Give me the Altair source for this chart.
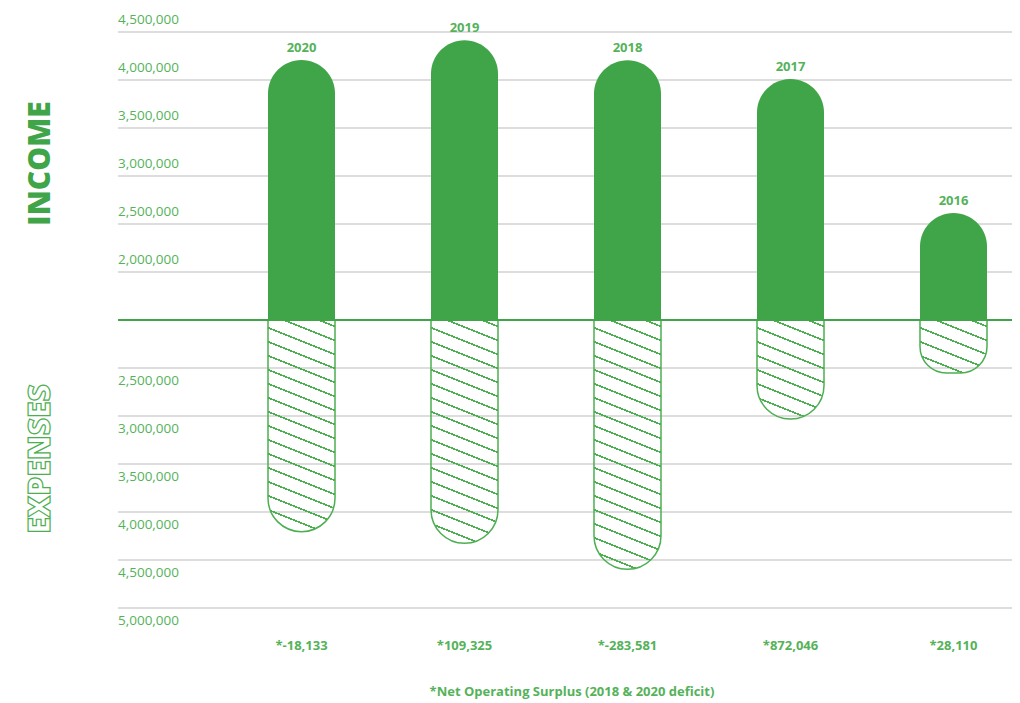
import altair as alt
import pandas as pd

# ---------------- data ----------------
years = ["2020", "2019", "2018", "2017", "2016"]
income = [4208000, 4415000, 4205000, 4010000, 2615000]
expenses = [4205000, 4326000, 4597000, 3031000, 2552000]
surplus_labels = ["*-18,133", "*109,325", "*-283,581", "*872,046", "*28,110"]
income_tick_labels = ["4,500,000", "4,000,000", "3,500,000", "3,000,000", "2,500,000", "2,000,000"]
expense_tick_labels = ["2,500,000", "3,000,000", "3,500,000", "4,000,000", "4,500,000", "5,000,000"]
footnote = "*Net Operating Surplus (2018 & 2020 deficit)"

# axis bases of the two half-scales (income goes up from 1.5M, expenses down from 2.0M)
INCOME_BASE = 1_500_000
EXPENSE_BASE = 2_000_000
SPAN = 3_000_000

# ---------------- style ----------------
W, H = 894, 576
BAR_W = 67
R = BAR_W / 2
GREEN = "#40A448"
LINE_GREEN = "#4DAF52"
LABEL = "#55B25A"
GRID = "#BBBBBB"
CLEAR = "rgba(255,255,255,0)"
FONT = "Open Sans"

def to_num(s):
    return int(s.replace(",", ""))

bars = pd.DataFrame({
    "year": years,
    "inc": [v - INCOME_BASE for v in income],
    "exp": [-(v - EXPENSE_BASE) for v in expenses],
    "surplus": surplus_labels,
})
inc_ticks = pd.DataFrame({"label": income_tick_labels,
                          "yv": [to_num(s) - INCOME_BASE for s in income_tick_labels]})
exp_ticks = pd.DataFrame({"label": expense_tick_labels,
                          "yv": [-(to_num(s) - EXPENSE_BASE) for s in expense_tick_labels]})
grid_df = pd.DataFrame({"yv": list(inc_ticks["yv"]) + list(exp_ticks["yv"])})

xscale = alt.Scale(type="point", domain=years, range=[183.5, 835.5], padding=0)
yscale = alt.Scale(domain=[-SPAN, SPAN], nice=False, zero=False)


def hatch(h, w, s=0.4, gap=14.0, phase=6.5, lw=1.7):
    """Linear gradient (bbox units) that paints thin diagonal stripes."""
    L = h + s * w
    c = L / (s * s * w * w + h * h)
    stops = [alt.GradientStop(offset=0, color=CLEAR)]
    k = phase
    while k - lw / 2 < L:
        a = max(0.0, (k - lw / 2) / L)
        b = min(1.0, (k + lw / 2) / L)
        stops += [alt.GradientStop(offset=a, color=CLEAR),
                  alt.GradientStop(offset=a, color=LINE_GREEN),
                  alt.GradientStop(offset=b, color=LINE_GREEN),
                  alt.GradientStop(offset=b, color=CLEAR)]
        k += gap
    stops.append(alt.GradientStop(offset=1, color=CLEAR))
    return alt.LinearGradient(gradient="linear", stops=stops,
                              x1=1.0, y1=0.0, x2=1.0 - s * c * w, y2=c * h)


gridlines = alt.Chart(grid_df).mark_rule(color=GRID, strokeWidth=1).encode(
    y=alt.Y("yv:Q", scale=yscale, axis=None), x=alt.value(0), x2=alt.value(W + 8)
)

income_bars = alt.Chart(bars).mark_bar(
    size=BAR_W, color=GREEN, cornerRadiusTopLeft=R, cornerRadiusTopRight=R
).encode(
    x=alt.X("year:N", scale=xscale, axis=None),
    y=alt.Y("inc:Q", scale=yscale, axis=None),
    y2=alt.datum(0),
)

expense_layers = []
for yr, ex in zip(years, expenses):
    hpx = (ex - EXPENSE_BASE) * H / (2 * SPAN)
    expense_layers.append(
        alt.Chart(bars).transform_filter(alt.datum.year == yr).mark_bar(
            size=BAR_W, fill=hatch(hpx, BAR_W), stroke=LINE_GREEN, strokeWidth=1.5,
            cornerRadiusBottomLeft=R, cornerRadiusBottomRight=R,
        ).encode(
            x=alt.X("year:N", scale=xscale, axis=None),
            y=alt.Y("exp:Q", scale=yscale, axis=None),
            y2=alt.datum(0),
        )
    )

baseline = alt.Chart(pd.DataFrame({"z": [0]})).mark_rule(color=GREEN, strokeWidth=2).encode(
    y=alt.Y("z:Q", scale=yscale, axis=None), x=alt.value(0), x2=alt.value(W + 8)
)

year_text = alt.Chart(bars).mark_text(
    font=FONT, fontSize=13, fontWeight="bold", color=LABEL, baseline="middle", dy=-12
).encode(x=alt.X("year:N", scale=xscale), y=alt.Y("inc:Q", scale=yscale), text="year:N")

surplus_text = alt.Chart(bars).mark_text(
    font=FONT, fontSize=13, fontWeight="bold", color=LABEL, baseline="middle"
).encode(x=alt.X("year:N", scale=xscale), y=alt.value(H + 38), text="surplus:N")

inc_tick_text = alt.Chart(inc_ticks).mark_text(
    font=FONT, fontSize=13.5, fontWeight=500, color=LABEL, align="left", baseline="middle", dy=-12
).encode(x=alt.value(0), y=alt.Y("yv:Q", scale=yscale), text="label:N")

exp_tick_text = alt.Chart(exp_ticks).mark_text(
    font=FONT, fontSize=13.5, fontWeight=500, color=LABEL, align="left", baseline="middle", dy=13
).encode(x=alt.value(0), y=alt.Y("yv:Q", scale=yscale), text="label:N")

income_title = alt.Chart(pd.DataFrame({"t": ["INCOME"]})).mark_text(
    font=FONT, fontSize=30, fontWeight=800, color=GREEN, angle=270,
    align="center", baseline="middle"
).encode(x=alt.value(-77), y=alt.value(131.5), text="t:N")

expense_title = alt.Chart(pd.DataFrame({"t": ["EXPENSES"]})).mark_text(
    font=FONT, fontSize=30, fontWeight=800, fill="white", stroke=LINE_GREEN, strokeWidth=1.2,
    angle=270, align="center", baseline="middle"
).encode(x=alt.value(-77), y=alt.value(427), text="t:N")

foot_text = alt.Chart(pd.DataFrame({"t": [footnote]})).mark_text(
    font=FONT, fontSize=13, fontWeight="bold", color=LABEL, align="center", baseline="middle"
).encode(x=alt.value(454), y=alt.value(660), text="t:N")

chart = alt.layer(
    gridlines, income_bars, *expense_layers, baseline, year_text, surplus_text,
    inc_tick_text, exp_tick_text, income_title, expense_title, foot_text
).properties(
    width=W, height=H,
    autosize=alt.AutoSizeParams(type="none"),
    padding={"left": 110, "top": 24, "right": 0, "bottom": 95},
).configure_view(stroke=None)

chart.save("out.html", embed_options={"renderer": "svg", "actions": False})
